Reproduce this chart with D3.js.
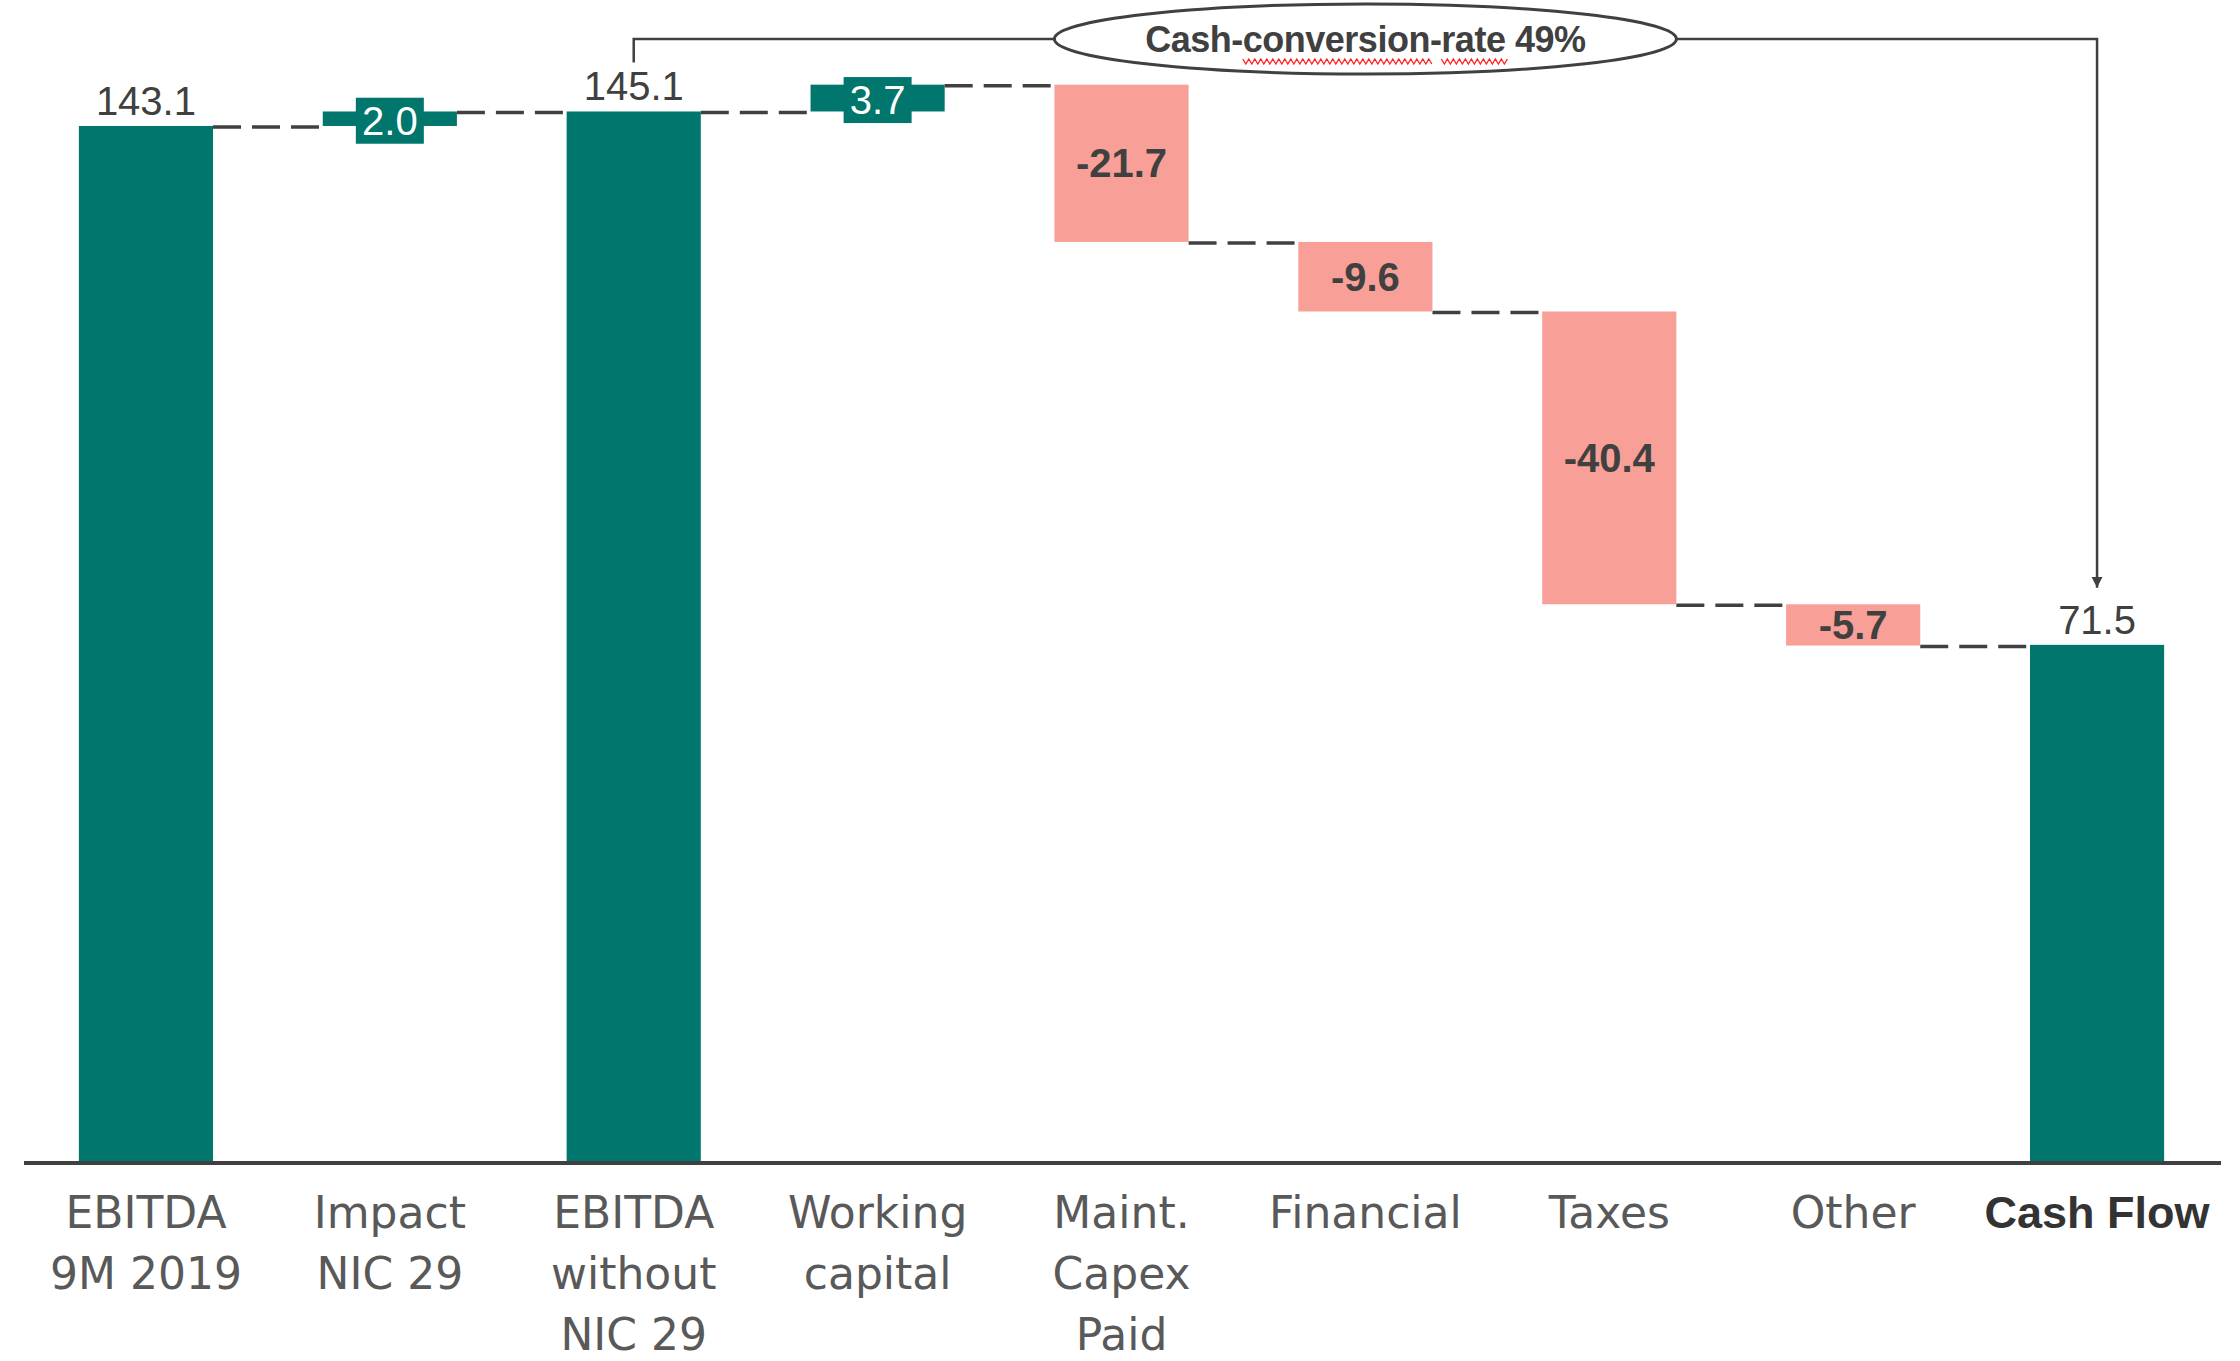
<html>
<head>
<meta charset="utf-8">
<script src="https://d3js.org/d3.v7.min.js"></script>
<style>
  body { margin: 0; background: #fff; }
  svg { display: block; }
</style>
</head>
<body>
<svg width="2240" height="1361"></svg>
<script>
    const categories = ['EBITDA 9M 2019', 'Impact NIC 29', 'EBITDA without NIC 29', 'Working capital',
                        'Maint. Capex Paid', 'Financial', 'Taxes', 'Other', 'Cash Flow'];
    const categoryLines = [['EBITDA', '9M 2019'], ['Impact', 'NIC 29'], ['EBITDA', 'without', 'NIC 29'],
                           ['Working', 'capital'], ['Maint.', 'Capex', 'Paid'], ['Financial'], ['Taxes'],
                           ['Other'], ['Cash Flow']];
    const values = [143.1, 2.0, 145.1, 3.7, -21.7, -9.6, -40.4, -5.7, 71.5];
    const barTypes = ['total', 'delta', 'total', 'delta', 'delta', 'delta', 'delta', 'delta', 'total'];
    const annotationText = 'Cash-conversion-rate 49%';
    const annotationFrom = 'EBITDA without NIC 29';
    const annotationTo = 'Cash Flow';

    const teal = '#00766c';
    const salmon = '#f8a097';
    const dark = '#404040';

    const svg = d3.select('svg');
    svg.append('rect').attr('width', 2240).attr('height', 1361).attr('fill', '#fff');

    const x = d3.scaleBand().domain(categories).range([24, 2219]).paddingInner(0.45).paddingOuter(0.225);
    const y = d3.scaleLinear().domain([0, 160]).range([1163, 3.5]);
    const bw = x.bandwidth();

    // running totals -> start / end of each bar
    let running = 0;
    const bars = values.map((v, i) => {
        let start, end;
        if (barTypes[i] === 'total') { start = 0; end = v; }
        else { start = running; end = running + v; }
        running = end;
        return { cat: categories[i], value: v, type: barTypes[i], start, end };
    });

    // dashed connectors
    const conn = svg.append('g');
    for (let i = 0; i < bars.length - 1; i++) {
        conn.append('line')
            .attr('x1', x(bars[i].cat) + bw).attr('x2', x(bars[i + 1].cat))
            .attr('y1', y(bars[i].end) + 1).attr('y2', y(bars[i].end) + 1)
            .attr('stroke', dark).attr('stroke-width', 3.5)
            .attr('stroke-dasharray', '28,11');
    }

    svg.append('g').selectAll('rect')
        .data(bars)
        .join('rect')
        .attr('x', d => x(d.cat))
        .attr('width', bw)
        .attr('y', d => y(Math.max(d.start, d.end)))
        .attr('height', d => Math.abs(y(d.start) - y(d.end)))
        .attr('fill', d => d.type === 'delta' && d.value < 0 ? salmon : teal);

    const fmt = v => v.toFixed(1);
    const labels = svg.append('g').style('font-family', '"Liberation Sans", Arial, sans-serif').style('font-size', '40px');

    bars.forEach(d => {
        const cx = x(d.cat) + bw / 2;
        if (d.type === 'total') {
            labels.append('text')
                .attr('x', cx).attr('y', y(d.end) - 11)
                .attr('text-anchor', 'middle').attr('fill', dark)
                .text(fmt(d.value));
        } else if (d.value > 0) {
            const cy = (y(d.start) + y(d.end)) / 2 + 2;
            labels.append('rect')
                .attr('x', cx - 34).attr('y', cy - 23)
                .attr('width', 68).attr('height', 46)
                .attr('fill', teal);
            labels.append('text')
                .attr('x', cx).attr('y', cy + 14)
                .attr('text-anchor', 'middle').attr('fill', '#fff')
                .text(fmt(d.value));
        } else {
            const cy = (y(d.start) + y(d.end)) / 2;
            labels.append('text')
                .attr('x', cx).attr('y', cy + 14)
                .attr('text-anchor', 'middle').attr('fill', dark)
                .style('font-weight', 'bold')
                .text(fmt(d.value));
        }
    });

    // category axis
    const axis = svg.append('g')
        .attr('transform', `translate(0,${y(0)})`)
        .call(d3.axisBottom(x).tickSize(0).tickSizeOuter(0).tickPadding(0));
    axis.select('.domain').attr('stroke', dark).attr('stroke-width', 4)
        .attr('d', 'M24,0H2221');
    axis.selectAll('.tick text').each(function(d, i) {
        const t = d3.select(this);
        const isLast = i === categories.length - 1;
        t.text(null)
            .attr('y', 0).attr('dy', null)
            .attr('fill', isLast ? '#333' : '#595959')
            .style('font-family', isLast ? '"Liberation Sans", Arial, sans-serif' : '"DejaVu Sans", sans-serif')
            .style('font-size', isLast ? '45px' : '44px')
            .style('font-weight', isLast ? 'bold' : 'normal');
        categoryLines[i].forEach((line, j) => {
            t.append('tspan').attr('x', 0).attr('y', 65 + j * 61).text(line);
        });
    });

    // cash conversion annotation
    const ax1 = x(annotationFrom) + bw / 2;
    const ax2 = x(annotationTo) + bw / 2;
    const ay = 39;
    const ecx = (ax1 + ax2) / 2;
    const rx = 311, ry = 35;

    svg.append('defs').append('marker')
        .attr('id', 'arrow').attr('viewBox', '0 0 10 10')
        .attr('refX', 10).attr('refY', 5)
        .attr('markerWidth', 4.5).attr('markerHeight', 5)
        .attr('orient', 'auto')
        .append('path').attr('d', 'M0,0L10,5L0,10Z').attr('fill', dark);

    const ann = svg.append('g');
    ann.append('path')
        .attr('d', `M${ax1},${y(145.1) - 49}V${ay}H${ecx - rx}`)
        .attr('fill', 'none').attr('stroke', dark).attr('stroke-width', 2.5);
    ann.append('path')
        .attr('d', `M${ecx + rx},${ay}H${ax2}V${y(71.5) - 57}`)
        .attr('fill', 'none').attr('stroke', dark).attr('stroke-width', 2.5)
        .attr('marker-end', 'url(#arrow)');
    ann.append('ellipse')
        .attr('cx', ecx).attr('cy', ay).attr('rx', rx).attr('ry', ry)
        .attr('fill', '#fff').attr('stroke', dark).attr('stroke-width', 3);
    const annText = ann.append('text')
        .attr('x', ecx).attr('y', ay + 13)
        .attr('text-anchor', 'middle').attr('fill', dark)
        .style('font-family', '"Liberation Sans", Arial, sans-serif')
        .style('font-size', '36px').style('font-weight', 'bold')
        .style('letter-spacing', '-0.5px')
        .text(annotationText);

    // spell-check squiggle under "conversion" and "rate"
    const node = annText.node();
    [[5, 10], [16, 4]].forEach(([s, n]) => {
        const x0 = node.getStartPositionOfChar(s).x;
        const x1 = node.getEndPositionOfChar(s + n - 1).x;
        let p = `M${x0},${ay + 20}`;
        for (let xx = x0, k = 0; xx < x1; xx += 3, k++) {
            p += `L${xx + 3},${ay + (k % 2 ? 20 : 25)}`;
        }
        ann.append('path').attr('d', p).attr('fill', 'none')
            .attr('stroke', '#ff2020').attr('stroke-width', 1.3);
    });
</script>
</body>
</html>
